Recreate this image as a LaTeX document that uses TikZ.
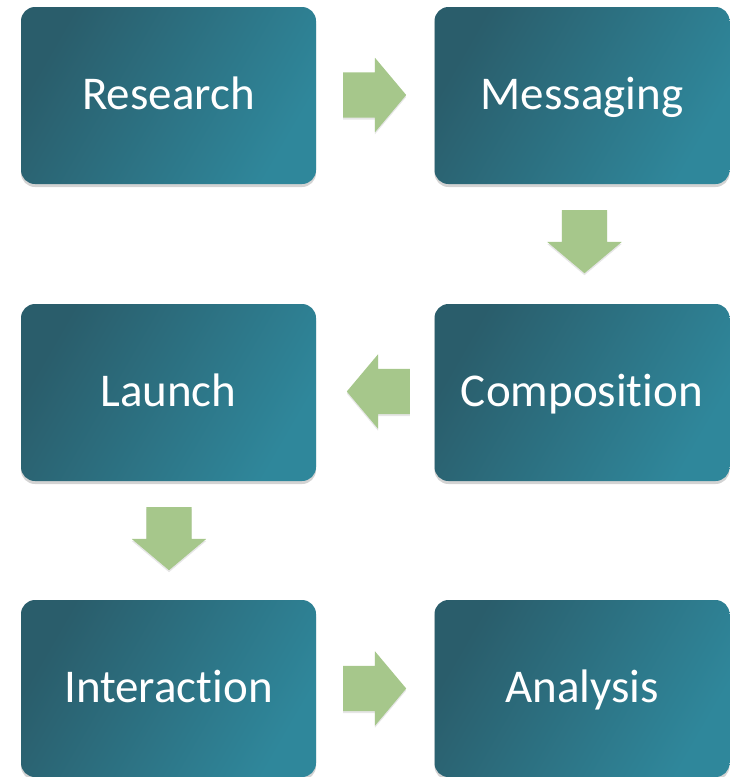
\documentclass[tikz,border=0pt]{standalone}
\usepackage{fontspec}
\setmainfont[Ligatures=NoCommon]{Carlito}
\usetikzlibrary{shapes.arrows,shadows}

\definecolor{tealdark}{HTML}{2A5D6B}
\definecolor{teallight}{HTML}{2F879B}
\definecolor{arrowgreen}{HTML}{A6C78B}

\begin{document}
\begin{tikzpicture}[x=1pt,y=-1pt,
	stepbox/.style={rectangle, rounded corners=14pt, minimum width=295pt, minimum height=177pt,
		left color=tealdark, right color=teallight, shading angle=60,
		text=white, font=\fontsize{47}{54}\selectfont, inner sep=0pt,
		text height=37pt, text depth=9pt,
		drop shadow={opacity=0.35, shadow xshift=0pt, shadow yshift=-3pt}},
	flow/.style={single arrow, fill=arrowgreen, minimum height=63pt, anchor=tail,
		inner xsep=0pt, inner ysep=22.5pt,
		single arrow head extend=14.5pt, single arrow tip angle=100,
		drop shadow={opacity=0.2, shadow xshift=0pt, shadow yshift=-2pt}}]

	\useasboundingbox (0,0) rectangle (729,777);

	% steps
	\node[stepbox] (research) at (168.5,95.5) {Research};
	\node[stepbox] (messaging) at (582,95.5) {Messaging};
	\node[stepbox] (composition) at (582,392.5) {Composition};
	\node[stepbox] (launch) at (168.5,392.5) {Launch};
	\node[stepbox] (interaction) at (168.5,688.5) {Interaction};
	\node[stepbox] (analysis) at (582,688.5) {Analysis};

	% block arrows
	\node[flow] (a1) at (343,95) {};
	\node[flow, rotate=-90] (a2) at (584.5,210) {};
	\node[flow, rotate=180] (a3) at (410,391.5) {};
	\node[flow, rotate=-90] (a4) at (169,507) {};
	\node[flow] (a5) at (343,688.5) {};

\end{tikzpicture}
\end{document}
